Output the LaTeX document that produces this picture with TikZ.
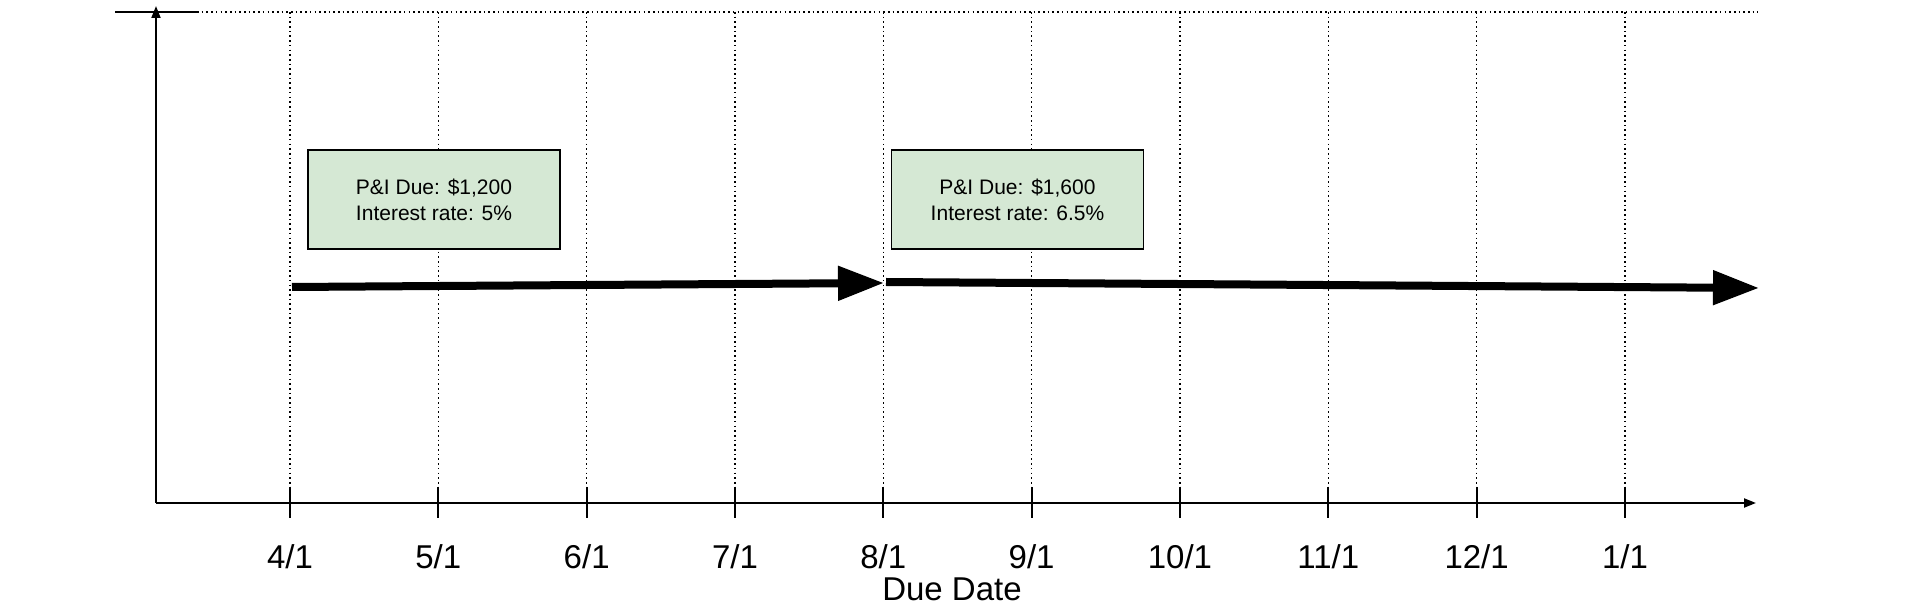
\documentclass[tikz,border=0pt]{standalone}
\usepackage{fontspec}
\setmainfont{Liberation Sans}
\usetikzlibrary{arrows.meta}
\definecolor{boxgreen}{HTML}{D5E8D4}
\tikzset{
  axis/.style={line width=1pt, -{Triangle[length=6pt,width=4.5pt]}},
  grid/.style={line width=0.8pt, dash pattern=on 0.8pt off 1.55pt},
  tick/.style={line width=1pt},
  ticklabel/.style={font=\fontsize{16.5}{19}\selectfont, anchor=center},
  infobox/.style={draw=black, line width=0.75pt, fill=boxgreen, minimum width=126pt, minimum height=49.5pt, align=center, font=\fontsize{10.5}{13}\selectfont, inner sep=0pt},
  bigarrow/.style={line width=4pt, -{Triangle[length=23pt,width=16.5pt]}}
}
\begin{document}
\begin{tikzpicture}[x=0.5pt,y=-0.5pt]
\useasboundingbox (0,0) rectangle (1913,614);
% top dotted guide
\coordinate (tl) at (115,12);
\coordinate (ts) at (197,12);
\coordinate (tr) at (1758,12);
\draw[line width=1pt] (tl) -- (ts);
\draw[grid] (ts) -- (tr);
% axes
\coordinate (o) at (156,503);
\coordinate (ytop) at (156,6);
\coordinate (xend) at (1756,503);
\draw[axis] (o) -- (ytop);
\draw[axis] (o) -- (xend);
% ticks, grid lines and labels
\foreach \lab [count=\i from 0] in {4/1,5/1,6/1,7/1,8/1,9/1,10/1,11/1,12/1,1/1}{
  \pgfmathsetmacro{\xx}{290+148.33*\i}
  \coordinate (g\i) at (\xx,12);
  \coordinate (a\i) at (\xx,487);
  \coordinate (b\i) at (\xx,518);
  \draw[grid] (g\i) -- (a\i);
  \draw[tick] (a\i) -- (b\i);
  \node[ticklabel] (l\i) at (\xx,557) {\lab};
}
\node[ticklabel] (title) at (952,589) {Due Date};
% boxes
\node[infobox] (box1) at (434,199.5) {P\&I Due: \$1,200\\Interest rate: 5\%};
\node[infobox] (box2) at (1017.5,199.5) {P\&I Due: \$1,600\\Interest rate: 6.5\%};
% thick arrows
\coordinate (p1s) at (292,287);
\coordinate (p1e) at (884,283);
\coordinate (p2s) at (886,282);
\coordinate (p2e) at (1759,288);
\draw[bigarrow] (p1s) -- (p1e);
\draw[bigarrow] (p2s) -- (p2e);
\end{tikzpicture}
\end{document}
